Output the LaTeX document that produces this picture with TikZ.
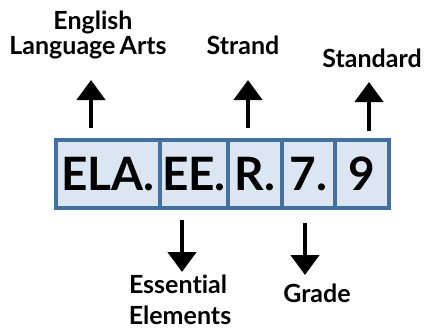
\documentclass[tikz,border=0pt]{standalone}
\usepackage{fontspec}
\setmainfont{Lato}[Ligatures=NoCommon]
\usetikzlibrary{arrows.meta}
\definecolor{boxfill}{HTML}{DCE6F2}
\definecolor{boxline}{HTML}{41719C}
\tikzset{
  codebox/.style={draw=boxline, fill=boxfill, line width=4pt, inner sep=0pt, font=\fontsize{46}{50}\selectfont\bfseries},
  lbl/.style={anchor=base, inner sep=0pt, font=\fontsize{25}{28}\selectfont\bfseries},
  bigarrow/.style={line width=4.5pt, -{Triangle[width=28pt,length=20pt]}},
}
\begin{document}
\begin{tikzpicture}[x=1pt,y=-1pt]
\useasboundingbox (0,0) rectangle (438,329);
% boxes
\node[codebox, minimum width=104pt, minimum height=68pt] (ela) at (108,174) {ELA.};
\node[codebox, minimum width=68pt, minimum height=68pt] (ee) at (194,174) {EE.};
\node[codebox, minimum width=54pt, minimum height=68pt] (r) at (255,174) {R.};
\node[codebox, minimum width=53pt, minimum height=68pt] (g) at (308.5,174) {7.};
\node[codebox, minimum width=54pt, minimum height=68pt] (s) at (362,174) {9};
% labels
\node[lbl] (eng) at (93,30) {English};
\node[lbl] (lang) at (88,55) {Language\hspace{-2pt} Arts};
\node[lbl] (strand) at (243,55) {Strand};
\node[lbl] (std) at (372,67) {Standard};
\node[lbl] (ess) at (178,293) {Essential};
\node[lbl] (elem) at (180,324) {Elements};
\node[lbl] (grade) at (317,302) {Grade};
% arrow ends
\coordinate (a1s) at (91,128); \coordinate (a1e) at (91,80);
\coordinate (a2s) at (248,128); \coordinate (a2e) at (248,80);
\coordinate (a3s) at (369,131); \coordinate (a3e) at (369,82);
\coordinate (a4s) at (182,220); \coordinate (a4e) at (182,272);
\coordinate (a5s) at (305,223); \coordinate (a5e) at (305,275);
\draw[bigarrow] (a1s) -- (a1e);
\draw[bigarrow] (a2s) -- (a2e);
\draw[bigarrow] (a3s) -- (a3e);
\draw[bigarrow] (a4s) -- (a4e);
\draw[bigarrow] (a5s) -- (a5e);
\end{tikzpicture}
\end{document}
